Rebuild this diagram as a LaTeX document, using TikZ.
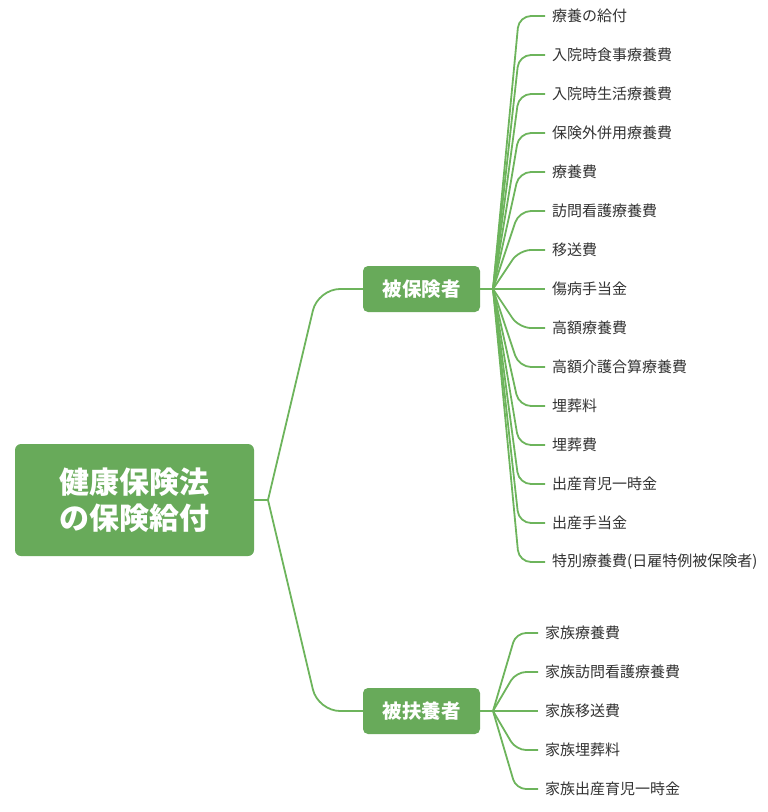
\documentclass[tikz,border=0pt]{standalone}
\usepackage{fontspec}
\setmainfont{Noto Sans CJK JP}
\definecolor{boxgreen}{HTML}{68AA5A}
\definecolor{linegreen}{HTML}{6DB45C}
\definecolor{leaftext}{HTML}{333333}
\begin{document}
\begin{tikzpicture}[x=1pt,y=-1pt,
  rootbox/.style={fill=boxgreen,rounded corners=6pt,minimum width=239pt,minimum height=112pt,inner sep=0pt,text=white,align=center,font=\fontsize{30}{36}\selectfont\bfseries},
  midbox/.style={fill=boxgreen,rounded corners=5pt,minimum width=117pt,minimum height=46pt,inner sep=0pt,text=white,font=\fontsize{19.5}{22}\selectfont\bfseries},
  leaf/.style={anchor=west,inner xsep=7pt,inner ysep=0pt,text=leaftext,font=\fontsize{15}{17}\selectfont},
  conn/.style={draw=linegreen,line width=1.8pt,line join=round}
]
\useasboundingbox (0,0) rectangle (768,812);
\node[rootbox] (root) at (134.5,500) {健康保険法\\の保険給付};
\node[midbox] (c1) at (421.5,289) {被保険者};
\node[midbox] (c2) at (421.5,711) {被扶養者};
\coordinate (hr) at (268,500);
\coordinate (h1) at (493,289);
\coordinate (h2) at (493,711);
\draw[conn] (root.east) -- (hr);
\draw[conn,rounded corners=22pt] (hr) -- (318,289) -- (c1.west);
\draw[conn,rounded corners=22pt] (hr) -- (318,711) -- (c2.west);
\draw[conn] (c1.east) -- (h1);
\draw[conn] (c2.east) -- (h2);
\foreach \t [count=\i from 0] in {療養の給付,入院時食事療養費,入院時生活療養費,保険外併用療養費,療養費,訪問看護療養費,移送費,傷病手当金,高額療養費,高額介護合算療養費,埋葬料,埋葬費,出産育児一時金,出産手当金,特別療養費(日雇特例被保険者)}{
  \pgfmathsetmacro{\yy}{16+39*\i}
  \node[leaf] (a\i) at (545,\yy) {\t};
  \draw[conn,rounded corners=12pt] (h1) -- (519,\yy) -- (a\i.west);
}
\foreach \t [count=\i from 0] in {家族療養費,家族訪問看護療養費,家族移送費,家族埋葬料,家族出産育児一時金}{
  \pgfmathsetmacro{\yy}{633+39*\i}
  \node[leaf] (b\i) at (538,\yy) {\t};
  \draw[conn,rounded corners=10pt] (h2) -- (516,\yy) -- (b\i.west);
}
\end{tikzpicture}
\end{document}
